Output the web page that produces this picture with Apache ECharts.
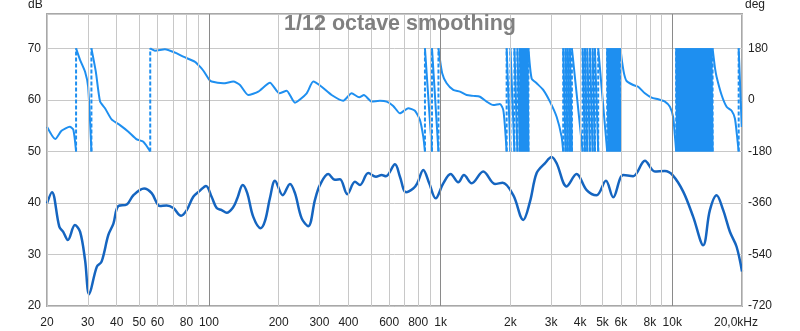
<!DOCTYPE html>
<html><head><meta charset="utf-8">
<script src="https://cdn.jsdelivr.net/npm/echarts@6/dist/echarts.min.js"></script>
<style>html,body{margin:0;padding:0;background:#fff}#c{width:800px;height:331px}</style>
</head><body><div id="c"></div>
<script>
// SPL (dB) curve
const splHz = [20, 21.0, 22.6, 23.5, 24.6, 26.4, 27.8, 29.2, 30.4, 32.8, 34.4, 36.8, 38.7, 40.6, 44.2, 47.2, 52.5, 56.6, 61.5, 65.7, 70.2, 75.8, 80.2, 85.6, 91.5, 97.1, 102.7, 108, 113.5, 119.3, 127.4, 132.6, 139.9, 146.4, 155.4, 167.2, 174.6, 183.5, 192.8, 208.2, 223.8, 235.2, 251.4, 268.5, 286.9, 301.6, 327.5, 350, 367.8, 395.6, 427, 448.8, 487.2, 526, 556.8, 581, 635.4, 667.6, 708.8, 761.8, 793, 841.8, 893.4, 952, 1027, 1105, 1192, 1261, 1362, 1528, 1717, 1853, 2059, 2274, 2430, 2598, 2820, 3014, 3168, 3500, 3864, 4270, 4714, 5172, 5562, 6142, 6784, 7618, 8414, 9294, 10034, 11148, 12314, 13600, 14534, 15534, 16592, 17734, 18952, 20000];
const splDb = [39.9, 42.1, 35.4, 34.4, 32.8, 35.7, 34.4, 28.9, 22.3, 27.6, 28.6, 33.8, 36.0, 39.4, 39.7, 41.5, 42.8, 41.9, 39.4, 39.5, 39.0, 37.5, 38.6, 41.2, 42.4, 43.3, 41.2, 39.0, 38.6, 38.1, 39.2, 40.9, 43.5, 41.9, 37.3, 35.1, 36.5, 41.0, 44.3, 41.5, 43.7, 41.9, 37.0, 35.5, 40.6, 43.5, 45.6, 44.5, 44.6, 41.7, 44.1, 43.5, 45.8, 45.1, 45.4, 45.2, 47.5, 45.1, 42.1, 42.8, 43.8, 46.4, 43.8, 40.9, 43.8, 45.6, 44.0, 45.4, 43.8, 46.1, 43.7, 43.9, 41.5, 36.7, 40.2, 45.8, 47.7, 48.9, 47.7, 43.2, 45.6, 42.5, 41.5, 44.3, 41.1, 45.4, 45.2, 48.2, 46.1, 46.2, 45.4, 42.2, 37.3, 31.8, 38.6, 41.5, 38.6, 34.4, 31.5, 26.7];

// Phase (deg): a wrap is two points at the same frequency, -180 then +180
const phasePoints = [
 [20,-94],[21.7,-137],[23.1,-108],[25.1,-94],[26.0,-105],[26.7,-180],[26.7,180],
 [27.8,139],[29.2,98],[30.1,46],[31.1,-180],[31.1,180],
 [32.5,98],[33.9,-6],[35.6,-29],[38.0,-68],[41.3,-88],[44.9,-111],[48.8,-138],[52.1,-146],[55.8,-180],[55.8,180],
 [58.5,172],[64.6,177],[71.4,165],[77.5,151],[87.1,133],[91.5,116],[95,100],[100,72],[102.7,64],[115.3,58],[127.4,64],
 [136.2,52],[147.8,17],[163.3,29],[183.5,60],[201.2,23],[216.6,32],[235.2,-10],[264.2,23],[282.1,64],[306.6,46],
 [338.6,17],[380,-3],[413,23],[445.6,9],[466.8,17],[504,-6],[547,-3],[585,-6],[624.6,-21],[667.6,-47],[725,-29],
 [775,-38],[814,-70],[842,-129],[856,-180],[856,180],[918,-180],[918,180],[979,-180],[979,180],
 [1016,93],[1062,58],[1134,35],[1212,29],[1295,17],[1384,14],[1479,11],[1581,-6],[1688,-18],[1804,-14],[1864,-35],[1896,-94],
 [1928,-180],[1928,180],[2002,-180],[2002,180],[2083,-180],[2083,180],[2146,-180],[2146,180],[2200,-180],[2200,180],
 [2233,-180],[2233,180],[2267,-180],[2267,180],[2300,-180],[2300,180],[2335,-180],[2335,180],[2370,-180],[2370,180],
 [2394,-180],[2394,180],
 [2471,75],[2598,58],[2773,35],[2965,-6],[3168,-59],[3330,-129],
 [3383,-180],[3383,180],[3464,-180],[3464,180],[3538,-180],[3538,180],[3616,-180],[3616,180],[3688,-180],[3688,180],
 [4103,-180],[4103,180],[4198,-180],[4198,180],[4295,-180],[4295,180],[4411,-180],[4411,180],[4531,-180],[4531,180],
 [4636,-180],[4636,180],[4790,-180],[4790,180],[5238,-180],[5238,180],[5306,-180],[5306,180],[5359,-180],[5359,180],
 [5413,-180],[5413,180],[5467,-180],[5467,180],[5521,-180],[5521,180],[5576,-180],[5576,180],[5632,-180],[5632,180],
 [5688,-180],[5688,180],[5745,-180],[5745,180],[5802,-180],[5802,180],[5860,-180],[5860,180],[5918,-180],[5918,180],
 [5973,-180],[5973,180],
 [6080,130],[6200,90],[6352,66],[6784,52],[7129,46],[7618,23],[8144,8],[8699,2],[9294,-6],[9768,-24],[10090,-60],[10250,-120],
 [10400,-180],[10400,180],[10490,-180],[10490,180],[10610,-180],[10610,180],[10700,-180],[10700,180],[10830,-180],[10830,180],
 [10920,-180],[10920,180],[11050,-180],[11050,180],[11140,-180],[11140,180],[11270,-180],[11270,180],[11360,-180],[11360,180],
 [11500,-180],[11500,180],[11590,-180],[11590,180],[11730,-180],[11730,180],[11830,-180],[11830,180],[11960,-180],[11960,180],
 [12070,-180],[12070,180],[12200,-180],[12200,180],[12310,-180],[12310,180],[12450,-180],[12450,180],[12560,-180],[12560,180],
 [12700,-180],[12700,180],[12810,-180],[12810,180],[12960,-180],[12960,180],[13070,-180],[13070,180],[13220,-180],[13220,180],
 [13330,-180],[13330,180],[13480,-180],[13480,180],[13600,-180],[13600,180],[13750,-180],[13750,180],[13870,-180],[13870,180],
 [14030,-180],[14030,180],[14150,-180],[14150,180],[14310,-180],[14310,180],[14440,-180],[14440,180],[14600,-180],[14600,180],
 [14750,-180],[14750,180],[14930,-180],[14930,180],
 [15300,110],[15534,81],[16330,17],[17160,-24],[18040,-38],[18640,-65],[19000,-120],[19350,-180],[19350,180],[19950,-95]
];

// Frequency grid and tick labels
const gridHz = [20,30,40,50,60,70,80,90,100,200,300,400,500,600,700,800,900,1000,2000,3000,4000,5000,6000,7000,8000,9000,10000,20000];
const gridLabels = ['20','30','40','50','60','','80','','100','200','300','400','','600','','800','','1k','2k','3k','4k','5k','6k','','8k','','10k','20,0kHz'];
const decadeHz = [100,1000,10000];

const FONT = '"Liberation Sans", Arial, sans-serif';
const splData = splHz.map((f, i) => [f, splDb[i]]);
const phaseSolid = [], phaseWrap = [];
phasePoints.forEach((p, i) => {
  const prev = phasePoints[i - 1];
  if (prev && prev[0] === p[0] && p[1] > prev[1]) {
    phaseSolid.push([p[0], '-']);
    phaseWrap.push([p[0], prev[1]], [p[0], p[1]], [p[0], '-']);
  }
  phaseSolid.push(p);
});

const chart = echarts.init(document.getElementById('c'), null, {renderer: 'canvas'});
chart.setOption({
  animation: false,
  backgroundColor: '#fff',
  grid: {left: 47, right: 58, top: 14, bottom: 25, show: true, borderColor: '#a8a8a8', borderWidth: 2, backgroundColor: 'transparent'},
  xAxis: {type: 'log', logBase: 10, min: 20, max: 20000,
    axisLine: {show: false}, axisTick: {show: false}, axisLabel: {show: false}, splitLine: {show: false}, minorSplitLine: {show: false}},
  yAxis: [
    {type: 'value', min: 20, max: 76.67, interval: 10, position: 'left',
     axisLine: {show: false}, axisTick: {show: false},
     axisLabel: {color: '#222', fontSize: 12, fontFamily: FONT, margin: 6, formatter: v => (Math.abs(v % 10) < 1e-6 ? String(v) : '')},
     splitLine: {lineStyle: {color: '#c8c8c8', width: 1}}},
    {type: 'value', min: -720, max: 300, interval: 180, position: 'right',
     axisLine: {show: false}, axisTick: {show: false},
     axisLabel: {color: '#222', fontSize: 12, fontFamily: FONT, margin: 6, formatter: v => (Math.abs(v % 180) < 1e-6 ? String(v) : '')},
     splitLine: {show: false}}
  ],
  graphic: [
    {type: 'text', left: 'center', top: 13, z: 10, style: {text: '1/12 octave smoothing', font: 'bold 21.5px ' + FONT, fill: '#808080'}},
    {type: 'text', left: 28, top: -1, style: {text: 'dB', font: '12px ' + FONT, fill: '#222'}},
    {type: 'text', left: 745, top: -1, style: {text: 'deg', font: '12px ' + FONT, fill: '#222'}}
  ],
  series: [
    {type: 'line', data: [], z: 1, silent: true,
     markLine: {silent: true, symbol: 'none', animation: false,
       data: gridHz.map((f, i) => ({xAxis: f,
         lineStyle: {color: decadeHz.includes(f) ? '#8a8a8a' : '#c8c8c8', width: 1, type: 'solid'},
         label: {show: true, position: 'start', distance: 11, formatter: gridLabels[i], color: '#222', fontSize: 12, fontFamily: FONT,
                 offset: f === 20000 ? [-6, 0] : [0, 0]}}))}},
    {type: 'line', yAxisIndex: 1, data: phaseWrap, z: 2, symbol: 'none', connectNulls: false,
     lineStyle: {color: '#1e8ff0', width: 2, type: [4, 2]}},
    {type: 'line', yAxisIndex: 1, data: phaseSolid, z: 2, symbol: 'none', connectNulls: false, smooth: 0.2,
     lineStyle: {color: '#1e8ff0', width: 2}},
    {type: 'line', yAxisIndex: 0, data: splData, z: 3, symbol: 'none', smooth: 0.35,
     lineStyle: {color: '#1565c0', width: 2.5}}
  ]
});
</script></body></html>
